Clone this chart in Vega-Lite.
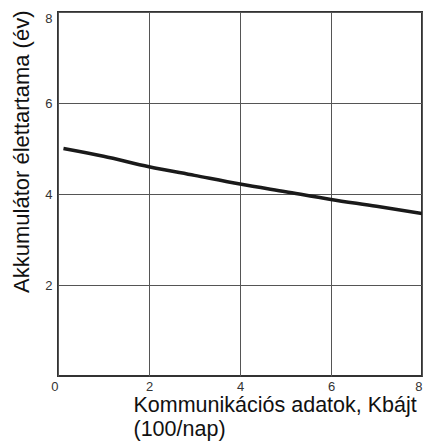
{
  "$schema": "https://vega.github.io/schema/vega-lite/v6.json",
  "autosize": "none",
  "width": 364,
  "height": 364,
  "padding": {"left": 58, "top": 12, "right": 5, "bottom": 65},
  "background": "white",
  "config": {
    "font": "Liberation Sans",
    "view": {"stroke": "#333", "strokeWidth": 2}
  },
  "data": {"values": [
    {"x": 0.12, "y": 5.0},
    {"x": 1.0, "y": 4.83},
    {"x": 2.0, "y": 4.6},
    {"x": 3.0, "y": 4.41},
    {"x": 4.0, "y": 4.22},
    {"x": 5.0, "y": 4.05},
    {"x": 6.0, "y": 3.88},
    {"x": 7.0, "y": 3.73},
    {"x": 8.0, "y": 3.57}
  ]},
  "mark": {"type": "line", "color": "#1a1a1a", "strokeWidth": 3.5, "interpolate": "monotone", "clip": true},
  "encoding": {
    "x": {
      "field": "x", "type": "quantitative",
      "scale": {"domain": [0, 8], "nice": false, "zero": true},
      "axis": {
        "values": [0, 2, 4, 6, 8],
        "grid": true, "gridColor": "#555", "gridWidth": 1, "gridOpacity": 1,
        "domain": false, "ticks": false,
        "labelFontSize": 13, "labelColor": "#333", "labelPadding": 4,
        "labelAlign": {"expr": "datum.value == 0 || datum.value == 8 ? 'right' : 'center'"},
        "labelFlush": false,
        "title": ["Kommunikációs adatok, Kbájt", "(100/nap)"],
        "titleFontSize": 21.5, "titleFontWeight": "normal", "titleColor": "#111",
        "titleAlign": "left", "titleAnchor": "start", "titleX": 75, "titleY": 18,
        "titleBaseline": "top", "titleLineHeight": 24
      }
    },
    "y": {
      "field": "y", "type": "quantitative",
      "scale": {"domain": [0, 8], "nice": false},
      "axis": {
        "values": [2, 4, 6, 8],
        "grid": true, "gridColor": "#555", "gridWidth": 1, "gridOpacity": 1,
        "domain": false, "ticks": false,
        "labelFontSize": 13, "labelColor": "#333", "labelPadding": 6,
        "labelFlush": true,
        "title": "Akkumulátor élettartama (év)",
        "titleFontSize": 22, "titleFontWeight": "normal", "titleColor": "#111",
        "titleAnchor": "end", "titleAlign": "right", "titleAngle": -90,
        "titleX": -37, "titleY": -2, "titleBaseline": "middle"
      }
    }
  }
}
